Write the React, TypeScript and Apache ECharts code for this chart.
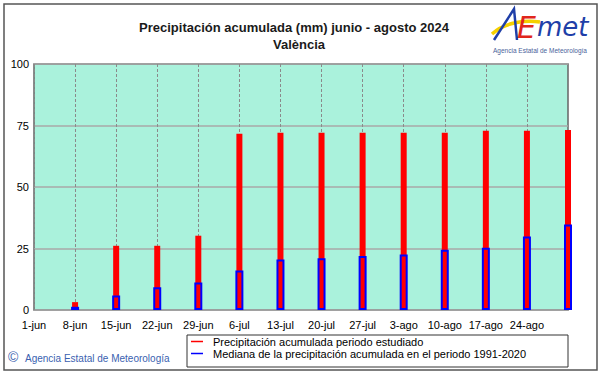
import React, { useEffect, useRef } from "react";
import * as echarts from "echarts";

const categories = ["1-jun", "8-jun", "15-jun", "22-jun", "29-jun", "6-jul", "13-jul", "20-jul", "27-jul", "3-ago", "10-ago", "17-ago", "24-ago", "31-ago"];
const precipStudied = [null, 3.2, 26.1, 26.1, 30.2, 71.6, 72.1, 72.1, 72.1, 72.1, 72.1, 72.9, 72.9, 73.2];
const precipMedian = [null, 1.3, 5.9, 9.2, 11.2, 16.1, 20.5, 21.0, 22.0, 22.6, 24.5, 25.3, 29.9, 34.8];
const yTicks = [0, 25, 50, 75, 100];
const seriesNames = [
  "Precipitación acumulada periodo estudiado",
  "Mediana de la precipitación acumulada en el periodo 1991-2020",
];
const titleLines = ["Precipitación acumulada (mm) junio - agosto 2024", "València"];

export default function App() {
  const ref = useRef<HTMLDivElement>(null);
  useEffect(() => {
    if (!ref.current) return;
    const chart = echarts.init(ref.current, null, { renderer: "svg" });
    const font = "Arial, 'Liberation Sans', sans-serif";
    chart.setOption({
      animation: false,
      backgroundColor: "#ffffff",
      textStyle: { fontFamily: font },
      grid: {
        left: 34,
        top: 64,
        width: 534,
        height: 246,
        show: true,
        backgroundColor: "#aaf2dc",
        borderColor: "#666666",
        borderWidth: 1.5,
        containLabel: false,
      },
      xAxis: [
        {
          type: "category",
          data: categories,
          boundaryGap: false,
          axisLine: { show: false },
          axisTick: { show: false },
          axisLabel: {
            color: "#000",
            fontSize: 11,
            fontFamily: font,
            margin: 9,
            interval: 0,
            formatter: (v: string, i: number) => (i === categories.length - 1 ? "" : v),
          },
          splitLine: { show: true, lineStyle: { color: "#8a8a8a", type: [3, 2], width: 1 } },
        },
        {
          type: "category",
          data: categories,
          boundaryGap: false,
          show: false,
          gridIndex: 0,
        },
      ],
      yAxis: {
        type: "value",
        min: yTicks[0],
        max: yTicks[yTicks.length - 1],
        interval: 25,
        axisLine: { show: false },
        axisTick: { show: false },
        axisLabel: { color: "#000", fontSize: 11, fontFamily: font, margin: 5 },
        splitLine: { show: true, lineStyle: { color: "#a9a9a9", width: 1.5 } },
      },
      legend: {
        left: 191,
        top: 336,
        orient: "vertical",
        selectedMode: false,
        itemWidth: 12,
        itemHeight: 1.5,
        itemGap: 1,
        padding: 0,
        textStyle: { fontSize: 11, color: "#000", fontFamily: font, padding: [0, 0, 0, 5] },
        data: [
          { name: seriesNames[0], icon: "rect", itemStyle: { color: "#ff0000", borderWidth: 0 } },
          { name: seriesNames[1], icon: "rect", itemStyle: { color: "#0000ff", borderWidth: 0 } },
        ],
      },
      series: [
        {
          name: seriesNames[0],
          type: "bar",
          xAxisIndex: 0,
          data: precipStudied,
          barWidth: 6,
          clip: false,
          itemStyle: { color: "#ff0000" },
          z: 2,
        },
        {
          name: seriesNames[1],
          type: "bar",
          xAxisIndex: 1,
          data: precipMedian,
          barWidth: 8,
          clip: false,
          itemStyle: { color: "rgba(0,0,0,0)", borderColor: "#0000ff", borderWidth: 2 },
          z: 3,
        },
      ],
      graphic: [
        {
          type: "rect",
          shape: { x: 4, y: 4, width: 593, height: 366 },
          style: { fill: "none", stroke: "#555555", lineWidth: 1.5 },
          z: -1,
          silent: true,
        },
        {
          type: "rect",
          shape: { x: 187, y: 335, width: 381, height: 32 },
          style: { fill: "#ffffff", stroke: "#333333", lineWidth: 1 },
          z: -1,
          silent: true,
        },
        {
          type: "text",
          x: 294,
          y: 27,
          style: {
            text: titleLines[0],
            fontSize: 13,
            fontWeight: "bold",
            fontFamily: font,
            fill: "#1a1a1a",
            align: "center",
            verticalAlign: "middle",
          },
        },
        {
          type: "text",
          x: 299,
          y: 44,
          style: {
            text: titleLines[1],
            fontSize: 13,
            fontWeight: "bold",
            fontFamily: font,
            fill: "#1a1a1a",
            align: "center",
            verticalAlign: "middle",
          },
        },
        {
          type: "text",
          x: 8,
          y: 357,
          style: { text: "©", fontSize: 14, fontFamily: font, fill: "#3a5fb0", verticalAlign: "middle" },
        },
        {
          type: "text",
          x: 25,
          y: 358,
          style: {
            text: "Agencia Estatal de Meteorología",
            fontSize: 10,
            fontFamily: font,
            fill: "#3a5fb0",
            verticalAlign: "middle",
          },
        },
        // logo
        {
          type: "bezierCurve",
          shape: { x1: 492, y1: 34, x2: 540, y2: 22, cpx1: 505, cpy1: 22, cpx2: 525, cpy2: 20 },
          style: { stroke: "#f5d000", lineWidth: 3.5, fill: "none" },
        },
        {
          type: "polyline",
          shape: { points: [[494, 40], [514, 9], [517, 40]] },
          style: { stroke: "#1f3fa8", lineWidth: 2.5, fill: "none" },
        },
        {
          type: "text",
          x: 517,
          y: 42,
          style: {
            text: "E",
            fontSize: 30,
            fontStyle: "italic",
            fontFamily: "'DejaVu Sans', sans-serif",
            fill: "#e0261c",
            verticalAlign: "bottom",
          },
        },
        {
          type: "text",
          x: 537,
          y: 40,
          style: {
            text: "met",
            fontSize: 26,
            fontStyle: "italic",
            fontFamily: "'DejaVu Sans', sans-serif",
            fill: "#1f3fa8",
            verticalAlign: "bottom",
          },
        },
        {
          type: "text",
          x: 540,
          y: 50,
          style: {
            text: "Agencia Estatal de Meteorología",
            fontSize: 6.5,
            fontFamily: font,
            fill: "#4a5f9a",
            align: "center",
            verticalAlign: "middle",
          },
        },
      ],
    });
    return () => chart.dispose();
  }, []);
  return (
    <div
      ref={ref}
      style={{ position: "absolute", left: 0, top: 0, width: 601, height: 374 }}
    />
  );
}
